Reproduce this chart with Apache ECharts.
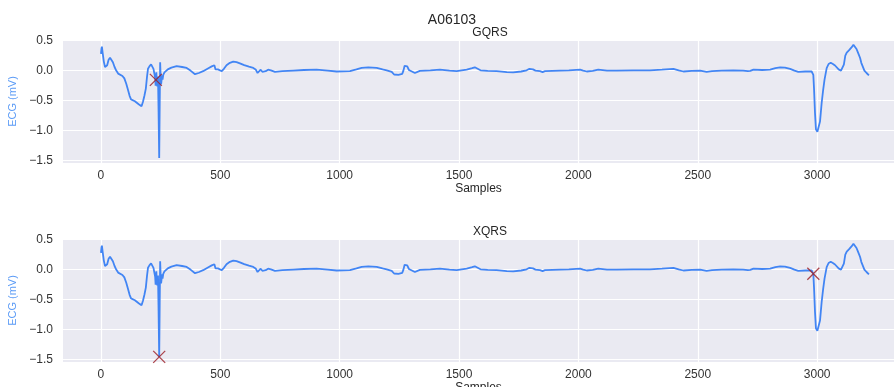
<!DOCTYPE html>
<html>
<head>
<meta charset="utf-8">
<script src="https://cdn.jsdelivr.net/npm/echarts@6/dist/echarts.min.js"></script>
<style>html,body{margin:0;padding:0;background:#fff;}#chart{width:894px;height:387px;}</style>
</head>
<body>
<div id="chart"></div>
<script>
// ---- data ----
const ecgSamples = [0,2,4,7,12,17,21,26,32,38,44,50,57,64,72,80,90,98,106,114,120,126,134,142,150,158,166,170,176,182,188,193,197,203,210,215,220,224,227,229,230,232,234,236,239,241,244,246,248,250,252,254,256,258,261,266,272,280,295,317,340,359,375,394,410,428,450,464,475,480,484,490,496,506,515,526,540,554,568,582,600,620,638,648,656,662,669,676,682,690,700,712,729,760,806,850,903,950,987,1043,1070,1092,1099,1120,1155,1180,1197,1218,1228,1246,1262,1267,1272,1277,1283,1290,1297,1315,1336,1380,1420,1460,1490,1532,1555,1566,1578,1590,1620,1657,1700,1727,1760,1783,1795,1801,1810,1820,1839,1845,1850,1860,1923,1960,2007,2020,2035,2060,2083,2090,2120,2160,2230,2300,2350,2398,2420,2440,2475,2510,2537,2560,2600,2649,2690,2710,2714,2720,2733,2770,2803,2825,2845,2865,2887,2905,2921,2950,2977,2982,2984,2987,2991,2995,3001,3007,3012,3019,3025,3031,3040,3048,3057,3066,3075,3090,3100,3106,3112,3118,3124,3134,3145,3152,3158,3165,3172,3180,3185,3190,3198,3207,3217];
const ecgValues = [0.28,0.36,0.40,0.30,0.15,0.06,0.03,0.09,0.18,0.215,0.20,0.14,0.06,0.0,-0.05,-0.07,-0.09,-0.13,-0.22,-0.33,-0.42,-0.48,-0.49,-0.51,-0.53,-0.56,-0.58,-0.595,-0.52,-0.42,-0.30,-0.10,0.03,0.07,0.105,0.08,0.03,0.0,-0.12,-0.25,-0.155,-0.03,-0.22,-0.26,-0.10,-0.60,-1.455,-0.60,0.14,-0.10,-0.23,-0.20,-0.08,-0.15,-0.07,-0.03,0.0,0.02,0.05,0.075,0.06,0.045,0.0,-0.06,-0.04,-0.01,0.04,0.07,0.09,0.02,0.005,0.02,0.01,-0.01,0.03,0.09,0.13,0.15,0.14,0.12,0.09,0.065,0.045,0.02,-0.04,-0.01,0.015,-0.02,-0.035,-0.01,0.015,0.005,-0.02,-0.01,0.0,0.01,0.015,0.0,-0.015,-0.01,0.02,0.045,0.03,0.055,0.045,0.02,0.005,-0.02,-0.065,-0.07,-0.055,0.0,0.08,0.095,0.07,0.01,-0.02,-0.04,-0.005,0.005,0.015,0.0,-0.01,0.015,0.04,0.055,0.03,0.005,-0.005,-0.01,-0.025,-0.03,-0.015,0.005,0.03,0.045,0.02,0.0,-0.01,0.0,-0.025,-0.01,0.0,0.005,0.015,0.0,-0.015,-0.005,0.015,0.0,0.0,0.0,0.003,0.005,0.015,0.03,0.005,-0.015,-0.005,0.0,-0.02,-0.01,0.0,0.005,0.0,-0.01,-0.025,-0.005,0.015,0.01,0.015,0.04,0.055,0.05,0.03,0.0,-0.02,-0.015,-0.015,-0.03,-0.07,-0.30,-0.70,-0.98,-1.02,-0.99,-0.85,-0.54,-0.33,-0.15,0.04,0.11,0.13,0.11,0.085,0.02,0.0,0.01,0.10,0.25,0.30,0.34,0.39,0.43,0.42,0.36,0.29,0.21,0.13,0.08,0.0,-0.04,-0.08];
const gqrsSamples = [230];
const gqrsValues = [-0.155];
const xqrsSamples = [244, 2984];
const xqrsValues = [-1.455, -0.07];
const xTicks = [0, 500, 1000, 1500, 2000, 2500, 3000];
const yTicks = [-1.5, -1.0, -0.5, 0.0, 0.5];
const mainTitle = 'A06103';
const subTitles = ['GQRS', 'XQRS'];

// ---- chart ----
const FONT = '"Liberation Sans", Arial, sans-serif';
const LINE = '#4285f4';
const MARK = '#9b1c24';
const pairs = (xs, ys) => xs.map((x, i) => [x, ys[i]]);
const ecg = pairs(ecgSamples, ecgValues);

function xAxisCfg(idx) {
  return {
    type: 'value', gridIndex: idx, min: -159, max: 3322,
    name: 'Samples', nameLocation: 'middle', nameGap: 17,
    nameTextStyle: { color: '#262626', fontSize: 12, fontFamily: FONT },
    axisLine: { show: false },
    axisTick: { show: false, customValues: xTicks },
    axisLabel: { customValues: xTicks, color: '#333', fontSize: 12, fontFamily: FONT, margin: 7,
      formatter: v => String(v) },
    splitLine: { show: true, lineStyle: { color: '#fff', width: 1.2 } }
  };
}
function yAxisCfg(idx) {
  return {
    type: 'value', gridIndex: idx, min: -1.54, max: 0.51,
    name: 'ECG (mV)', nameLocation: 'middle', nameGap: 38,
    nameTextStyle: { color: '#5b9bf6', fontSize: 11, fontFamily: FONT },
    axisLine: { show: false },
    axisTick: { show: false, customValues: yTicks },
    axisLabel: {
      customValues: yTicks, color: '#333', fontSize: 12, fontFamily: FONT, margin: 10,
      formatter: v => (v < 0 ? '\u2212' : '') + Math.abs(v).toFixed(1)
    },
    splitLine: { show: true, lineStyle: { color: '#fff', width: 1.2 } }
  };
}
const xSym = 'path://M0,0L10,10M10,0L0,10';
function markSeries(idx, xs, ys) {
  return {
    type: 'scatter', xAxisIndex: idx, yAxisIndex: idx, z: 5,
    data: pairs(xs, ys), symbol: xSym, symbolSize: 12,
    itemStyle: { color: 'transparent', borderColor: MARK, borderWidth: 1.3 },
    silent: true
  };
}
function lineSeries(idx) {
  return {
    type: 'line', xAxisIndex: idx, yAxisIndex: idx, data: ecg,
    showSymbol: false, symbol: 'none', animation: false,
    lineStyle: { color: LINE, width: 1.8 }, silent: true
  };
}

const chart = echarts.init(document.getElementById('chart'), null, { renderer: 'canvas' });
chart.setOption({
  animation: false,
  backgroundColor: '#ffffff',
  title: [
    { text: mainTitle, left: 447, top: 8, textAlign: 'center',
      textStyle: { fontSize: 14, fontWeight: 'normal', color: '#262626', fontFamily: FONT } },
    { text: subTitles[0], left: 485, top: 22, textAlign: 'center',
      textStyle: { fontSize: 12, fontWeight: 'normal', color: '#262626', fontFamily: FONT } },
    { text: subTitles[1], left: 485, top: 221, textAlign: 'center',
      textStyle: { fontSize: 12, fontWeight: 'normal', color: '#262626', fontFamily: FONT } }
  ],
  grid: [
    { left: 63, top: 40, width: 831, height: 123, show: true, backgroundColor: '#eaeaf2', borderWidth: 0, outerBoundsMode: 'none', containLabel: false },
    { left: 63, top: 239, width: 831, height: 123, show: true, backgroundColor: '#eaeaf2', borderWidth: 0, outerBoundsMode: 'none', containLabel: false }
  ],
  xAxis: [xAxisCfg(0), xAxisCfg(1)],
  yAxis: [yAxisCfg(0), yAxisCfg(1)],
  series: [
    lineSeries(0), markSeries(0, gqrsSamples, gqrsValues),
    lineSeries(1), markSeries(1, xqrsSamples, xqrsValues)
  ]
});
</script>
</body>
</html>
